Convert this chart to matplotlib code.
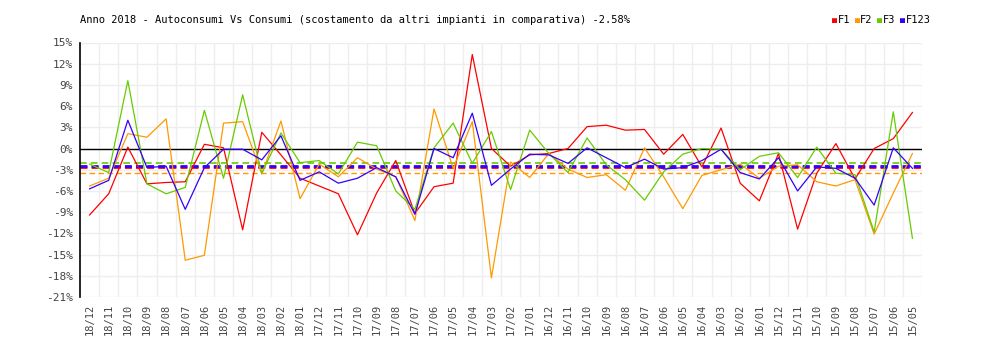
import numpy as np
import matplotlib
matplotlib.use("Agg")
from matplotlib import pyplot as plt

# months, most recent first
mesi = ["18/12", "18/11", "18/10", "18/09", "18/08", "18/07", "18/06", "18/05", "18/04", "18/03",
        "18/02", "18/01", "17/12", "17/11", "17/10", "17/09", "17/08", "17/07", "17/06", "17/05",
        "17/04", "17/03", "17/02", "17/01", "16/12", "16/11", "16/10", "16/09", "16/08", "16/07",
        "16/06", "16/05", "16/04", "16/03", "16/02", "16/01", "15/12", "15/11", "15/10", "15/09",
        "15/08", "15/07", "15/06", "15/05"]

# percent deviation per band
f1 = [-9.4, -6.4, 0.2, -5.0, -4.8, -4.7, 0.6, 0.1, -11.5, 2.3,
      -0.9, -4.2, -5.3, -6.4, -12.2, -6.3, -1.7, -9.2, -5.4, -4.9,
      13.3, 0.0, -2.5, -0.9, -0.7, 0.0, 3.1, 3.3, 2.6, 2.7,
      -0.8, 2.0, -2.6, 2.9, -4.9, -7.4, -0.7, -11.4, -3.5, 0.7,
      -4.3, 0.0, 1.4, 5.1]
f2 = [-5.3, -4.2, 2.1, 1.6, 4.2, -15.8, -15.1, 3.6, 3.8, -3.6,
      3.9, -7.1, -2.2, -4.0, -1.3, -2.9, -4.0, -10.2, 5.6, -2.8,
      3.8, -18.3, -1.9, -4.1, -0.7, -2.9, -4.1, -3.7, -5.9, 0.1,
      -4.0, -8.5, -3.8, -3.0, -2.2, -4.2, -2.5, -2.3, -4.7, -5.3,
      -4.4, -12.1, -6.3, -0.7]
f3 = [-2.2, -3.4, 9.6, -5.0, -6.4, -5.5, 5.4, -4.2, 7.6, -3.5,
      2.2, -2.0, -1.7, -3.6, 0.9, 0.4, -6.0, -8.6, 0.1, 3.6,
      -2.1, 2.4, -5.8, 2.6, -0.7, -3.4, 1.5, -2.3, -4.4, -7.3,
      -3.3, -0.8, 0.0, -0.1, -3.0, -1.1, -0.6, -4.1, 0.2, -3.5,
      -3.7, -11.8, 5.2, -12.7]
f123 = [-5.7, -4.5, 4.0, -2.7, -2.5, -8.6, -2.7, -0.1, -0.1, -1.6,
        1.8, -4.5, -3.3, -4.9, -4.2, -2.7, -4.0, -9.3, 0.0, -1.3,
        5.0, -5.2, -2.9, -0.8, -0.9, -2.1, 0.1, -1.3, -2.7, -1.5,
        -2.9, -2.7, -1.7, -0.1, -3.4, -4.3, -1.3, -6.0, -2.6, -2.8,
        -4.2, -8.0, 0.1, -2.8]

# averages (dashed lines)
medie = {"F1": -2.55, "F2": -3.5, "F3": -2.0, "F123": -2.45}

nomi = ["F1", "F2", "F3", "F123"]
colori = ["#ff0000", "#ff9900", "#66cc00", "#3300ff"]
serie = [f1, f2, f3, f123]

plt.rcParams["font.family"] = "DejaVu Sans Mono"

fig = plt.figure(figsize=(10, 3.4), dpi=100)
ax = fig.add_axes([0.08, 0.1265, 0.842, 0.7485])

x = np.arange(len(mesi))

# grid
for yv in range(-21, 16, 3):
    ax.axhline(yv, color="#eeeeee", lw=1, zorder=0)
for xv in np.arange(0.5, len(mesi), 1):
    ax.axvline(xv, color="#eeeeee", lw=1, zorder=0)
ax.axhline(0, color="black", lw=1, zorder=1)

for s, c in zip(serie, colori):
    ax.plot(x, s, color=c, lw=0.9, zorder=3)

# average lines
ax.axhline(medie["F2"], color=colori[1], lw=1, ls=(0, (4, 2.5)), zorder=2)
ax.axhline(medie["F3"], color=colori[2], lw=1.2, ls=(0, (4, 2.5)), zorder=2)
ax.axhline(medie["F1"], color=colori[0], lw=2, ls=(0, (2.5, 1.5)), zorder=2)
ax.axhline(medie["F123"], color=colori[3], lw=2, ls=(0, (2.5, 1.5)), zorder=2)

ax.set_xlim(-0.5, len(mesi) - 0.5)
ax.set_ylim(-21, 15)
ax.set_yticks(range(-21, 16, 3))
ax.set_yticklabels([f"{v}%" for v in range(-21, 16, 3)], color="#444444", fontsize=8)
ax.set_xticks(x)
ax.set_xticklabels(mesi, rotation=90, color="#444444", fontsize=7.5)
ax.tick_params(axis="both", length=0, pad=5)

for side in ["top", "right", "bottom"]:
    ax.spines[side].set_visible(False)
ax.spines["left"].set_color("black")
ax.spines["left"].set_linewidth(1.2)

fig.text(0.08, 0.94, "Anno 2018 - Autoconsumi Vs Consumi (scostamento da altri impianti in comparativa) -2.58%",
         fontsize=7.5, ha="left", va="center", color="black")

# legend
lx = 0.832
for n, c in zip(nomi, colori):
    fig.text(lx, 0.94, "\u25a0", color=c, fontsize=6, ha="left", va="center")
    fig.text(lx + 0.0055, 0.94, n, color="black", fontsize=7.5, ha="left", va="center")
    lx += 0.0055 + 0.0046 * len(n) + 0.008

fig.savefig("out.png", dpi=100)
